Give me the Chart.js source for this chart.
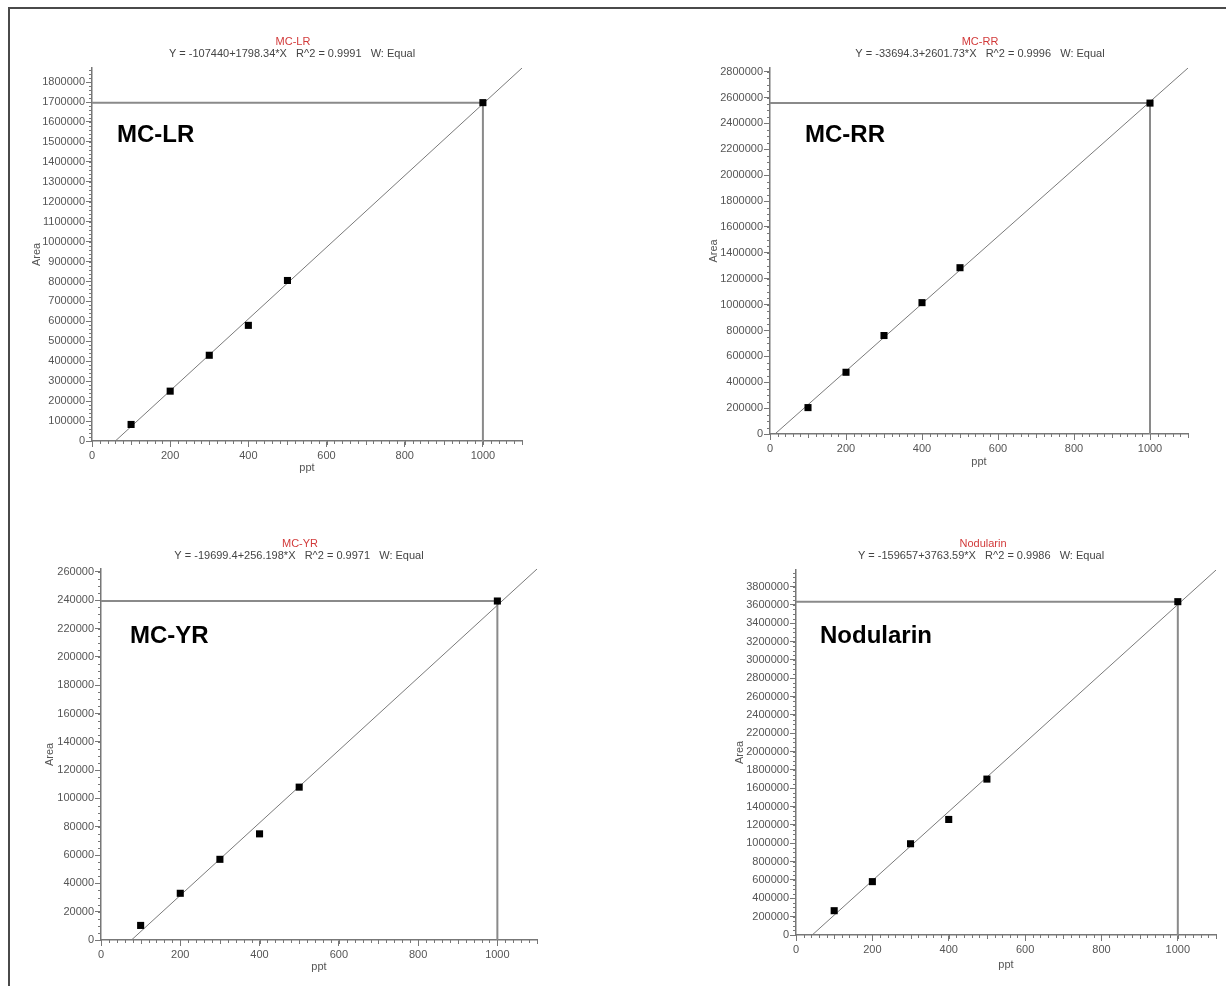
<!DOCTYPE html>
<html>
<head>
<meta charset="utf-8">
<script src="https://cdn.jsdelivr.net/npm/chart.js@4.4.1/dist/chart.umd.min.js"></script>
<style>
  html, body { margin: 0; padding: 0; background: #fff; }
  body { width: 1226px; height: 986px; position: relative; overflow: hidden; }
  canvas { position: absolute; }
  .frame-top { position: absolute; left: 8px; top: 7px; width: 1218px; height: 2px; background: #4a4a4a; }
  .frame-left { position: absolute; left: 8px; top: 7px; width: 2px; height: 979px; background: #4a4a4a; }
</style>
</head>
<body>
<div class="frame-top"></div>
<div class="frame-left"></div>
<canvas id="mclr"></canvas>
<canvas id="mcrr"></canvas>
<canvas id="mcyr"></canvas>
<canvas id="nod"></canvas>
<script>
// concentration levels (ppt)
const concPpt = [100, 200, 300, 400, 500, 1000];
const xTicks = [0, 200, 400, 600, 800, 1000];
const xMax = 1100;

// peak areas
const mclrArea = [83000, 250000, 430000, 580000, 805000, 1697000];
const mcrrArea = [204000, 477000, 761000, 1015000, 1285000, 2557000];
const mcyrArea = [10300, 33000, 57000, 75000, 108000, 239500];
const nodArea = [265000, 582000, 995000, 1260000, 1700000, 3635000];

// fitted line ends (x-intercept to 1100 ppt), from the printed equations
const mclrFitX = [59.74, 1100];
const mclrFitY = [0, 1870734];
const mcrrFitX = [12.95, 1100];
const mcrrFitY = [0, 2828209];
const mcyrFitX = [76.89, 1100];
const mcyrFitY = [0, 262118];
const nodFitX = [42.42, 1100];
const nodFitY = [0, 3980292];

// y tick labels
const mclrYTicks = [0, 100000, 200000, 300000, 400000, 500000, 600000, 700000, 800000, 900000,
  1000000, 1100000, 1200000, 1300000, 1400000, 1500000, 1600000, 1700000, 1800000];
const mcrrYTicks = [0, 200000, 400000, 600000, 800000, 1000000, 1200000, 1400000, 1600000,
  1800000, 2000000, 2200000, 2400000, 2600000, 2800000];
const mcyrYTicks = [0, 20000, 40000, 60000, 80000, 100000, 120000, 140000, 160000, 180000,
  200000, 220000, 240000, 260000];
const nodYTicks = [0, 200000, 400000, 600000, 800000, 1000000, 1200000, 1400000, 1600000,
  1800000, 2000000, 2200000, 2400000, 2600000, 2800000, 3000000, 3200000, 3400000, 3600000, 3800000];

const titles = ["MC-LR", "MC-RR", "MC-YR", "Nodularin"];
const equations = [
  "Y = -107440+1798.34*X   R^2 = 0.9991   W: Equal",
  "Y = -33694.3+2601.73*X   R^2 = 0.9996   W: Equal",
  "Y = -19699.4+256.198*X   R^2 = 0.9971   W: Equal",
  "Y = -159657+3763.59*X   R^2 = 0.9986   W: Equal",
];

const FONT = "'Liberation Sans', Arial, Helvetica, sans-serif";
Chart.defaults.font.family = FONT;
Chart.defaults.font.size = 11;
Chart.defaults.color = "#555";

// panel placement on the page
const panels = [
  { id: "mclr", area: mclrArea, fitX: mclrFitX, fitY: mclrFitY, yTicks: mclrYTicks, yMinor: 20000,
    box: { l: 92, r: 522, t: 68, b: 441 }, titleX: 293, titleY: 42, eqX: 292, eqY: 54,
    bigX: 117, bigY: 142, areaX: 37, pptY: 468 },
  { id: "mcrr", area: mcrrArea, fitX: mcrrFitX, fitY: mcrrFitY, yTicks: mcrrYTicks, yMinor: 50000,
    box: { l: 770, r: 1188, t: 68, b: 434 }, titleX: 980, titleY: 42, eqX: 980, eqY: 54,
    bigX: 805, bigY: 142, areaX: 714, pptY: 462 },
  { id: "mcyr", area: mcyrArea, fitX: mcyrFitX, fitY: mcyrFitY, yTicks: mcyrYTicks, yMinor: 5000,
    box: { l: 101, r: 537, t: 569, b: 940 }, titleX: 300, titleY: 544, eqX: 299, eqY: 556,
    bigX: 130, bigY: 643, areaX: 50, pptY: 967 },
  { id: "nod", area: nodArea, fitX: nodFitX, fitY: nodFitY, yTicks: nodYTicks, yMinor: 50000,
    box: { l: 796, r: 1216, t: 570, b: 935 }, titleX: 983, titleY: 544, eqX: 981, eqY: 556,
    bigX: 820, bigY: 643, areaX: 740, pptY: 965 },
];

const minorTicks = {
  id: "minorTicks",
  afterDraw(chart, args, opts) {
    const { ctx, chartArea, scales } = chart;
    const x = scales.x, y = scales.y;
    ctx.save();
    ctx.strokeStyle = "#777";
    ctx.lineWidth = 1;
    ctx.beginPath();
    for (let v = 0; v <= x.max + 1e-6; v += opts.x) {
      const px = Math.round(x.getPixelForValue(v)) + 0.5;
      const len = v % 100 === 0 ? 4 : 3;
      ctx.moveTo(px, chartArea.bottom);
      ctx.lineTo(px, chartArea.bottom + len);
    }
    for (let v = 0; v <= y.max + 1e-6; v += opts.y) {
      const py = Math.round(y.getPixelForValue(v)) + 0.5;
      ctx.moveTo(chartArea.left - 3, py);
      ctx.lineTo(chartArea.left, py);
    }
    ctx.stroke();
    ctx.restore();
  },
};

const panelText = {
  id: "panelText",
  afterDraw(chart, args, o) {
    const ctx = chart.ctx;
    ctx.save();
    ctx.textAlign = "center";
    ctx.textBaseline = "middle";
    ctx.font = `11px ${FONT}`;
    ctx.fillStyle = "#d23a3a";
    ctx.fillText(o.title, o.titleX - o.ox, o.titleY - o.oy);
    ctx.fillStyle = "#444";
    ctx.fillText(o.equation, o.eqX - o.ox, o.eqY - o.oy);
    ctx.textAlign = "left";
    ctx.textBaseline = "alphabetic";
    ctx.font = `bold 24px ${FONT}`;
    ctx.fillStyle = "#000";
    ctx.fillText(o.title, o.bigX - o.ox, o.bigY - o.oy);
    ctx.restore();
  },
};

function buildPanel(p, idx) {
  const cl = p.areaX - 11;
  const ct = p.box.t - 45;
  const xH = Math.round(p.pptY + 6.6 - p.box.b);
  const cw = p.box.r + 20 - cl;
  const ch = p.box.b + xH + 4 - ct;
  const canvas = document.getElementById(p.id);
  canvas.width = cw;
  canvas.height = ch;
  canvas.style.left = cl + "px";
  canvas.style.top = ct + "px";

  const lastX = concPpt[concPpt.length - 1];
  const lastY = p.area[p.area.length - 1];

  new Chart(canvas, {
    type: "scatter",
    data: {
      // first dataset is drawn on top
      datasets: [
        {
          data: concPpt.map((x, i) => ({ x, y: p.area[i] })),
          pointStyle: "rect",
          pointRadius: 5,
          backgroundColor: "#000",
          borderWidth: 0,
        },
        {
          data: p.fitX.map((x, i) => ({ x, y: p.fitY[i] })),
          showLine: true,
          borderColor: "#7a7a7a",
          borderWidth: 1,
          pointRadius: 0,
        },
        {
          data: [{ x: 0, y: lastY }, { x: lastX, y: lastY }, { x: lastX, y: 0 }],
          showLine: true,
          borderColor: "#8a8a8a",
          borderWidth: 2,
          pointRadius: 0,
        },
      ],
    },
    options: {
      responsive: false,
      animation: false,
      devicePixelRatio: 1,
      layout: { padding: { left: 0, top: p.box.t - ct, right: 20, bottom: 4 } },
      plugins: {
        legend: { display: false },
        tooltip: { enabled: false },
        minorTicks: { x: 20, y: p.yMinor },
        panelText: {
          ox: cl, oy: ct, title: titles[idx], equation: equations[idx],
          titleX: p.titleX, titleY: p.titleY, eqX: p.eqX, eqY: p.eqY,
          bigX: p.bigX, bigY: p.bigY,
        },
      },
      scales: {
        x: {
          type: "linear",
          min: 0,
          max: xMax,
          afterFit: (s) => { s.height = xH; },
          afterBuildTicks: (s) => { s.ticks = xTicks.map((value) => ({ value })); },
          ticks: { autoSkip: false, maxRotation: 0, padding: 2, callback: (v) => String(v) },
          grid: { display: true, drawOnChartArea: false, drawTicks: true, tickLength: 6, tickColor: "#777" },
          border: { display: true, color: "#777", width: 1.5 },
          title: { display: true, text: "ppt", padding: { top: 0, bottom: 0 }, color: "#555" },
        },
        y: {
          type: "linear",
          min: 0,
          max: p.fitY[1],
          afterFit: (s) => { s.width = p.box.l - cl; },
          afterBuildTicks: (s) => { s.ticks = p.yTicks.map((value) => ({ value })); },
          ticks: { autoSkip: false, padding: 1, callback: (v) => String(v) },
          grid: { display: true, drawOnChartArea: false, drawTicks: true, tickLength: 6, tickColor: "#777" },
          border: { display: true, color: "#777", width: 1.5 },
          title: { display: true, text: "Area", padding: { top: 4, bottom: 0 }, color: "#555" },
        },
      },
    },
    plugins: [minorTicks, panelText],
  });
}

panels.forEach(buildPanel);
</script>
</body>
</html>
